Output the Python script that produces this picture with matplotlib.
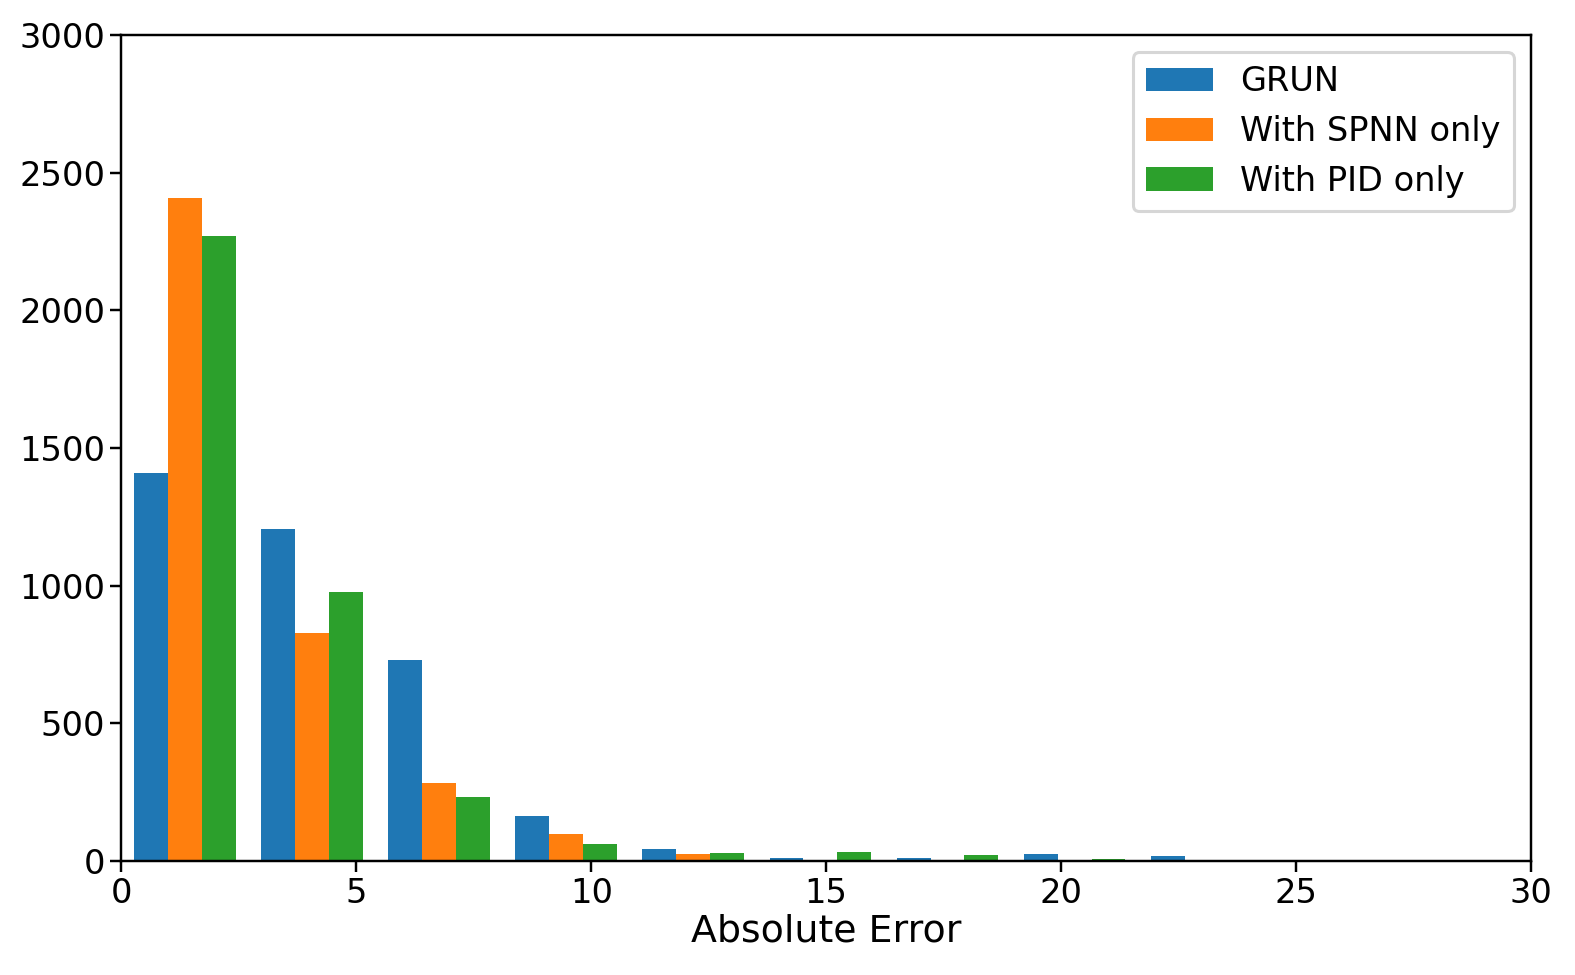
import numpy as np
import matplotlib
matplotlib.use("Agg")
from matplotlib import pyplot as plt

# bin edges of the histogram (10 bins)
bin_edges = np.linspace(0.0, 27.05, 11)

labels = ["GRUN", "With SPNN only", "With PID only"]
grun = [1410, 1205, 731, 165, 45, 10, 9, 25, 18, 4]
spnn = [2407, 829, 282, 96, 25, 0, 0, 0, 0, 0]
pid = [2271, 978, 234, 62, 28, 32, 21, 7, 0, 0]

centers = (bin_edges[:-1] + bin_edges[1:]) / 2

fig = plt.figure(figsize=(1575 / 220, 975 / 220), dpi=220)
ax = fig.add_axes([0.0771, 0.117, 0.8949, 0.847])
ax.hist([centers] * 3, bins=bin_edges, weights=[grun, spnn, pid], label=labels)

ax.set_xlim(0, 30)
ax.set_ylim(0, 3000)
ax.tick_params(labelsize=11, pad=1.8)
ax.set_xlabel("Absolute Error", fontsize=12.4, labelpad=1)
ax.legend(fontsize=11, loc="upper right")

fig.savefig("out.png", dpi=220)
